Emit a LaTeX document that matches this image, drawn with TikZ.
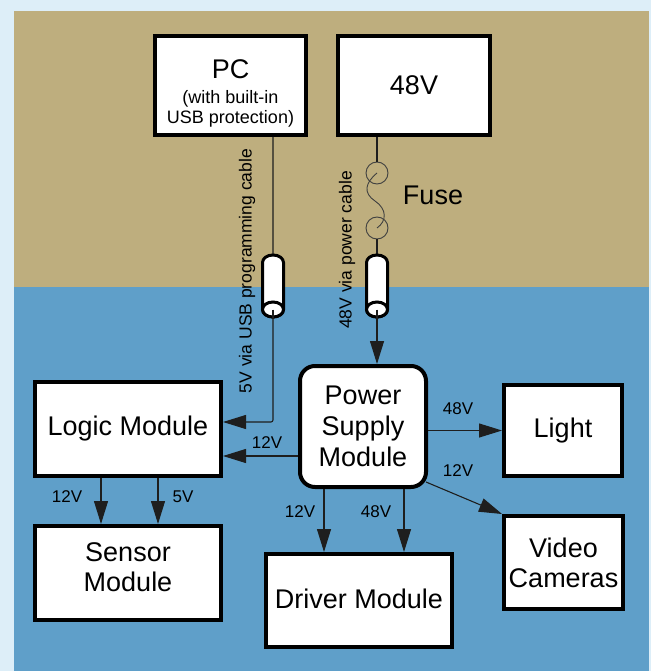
\documentclass[tikz,border=0pt]{standalone}
\usepackage{fontspec}
\setmainfont{Liberation Sans}
\usetikzlibrary{arrows.meta,calc}
\definecolor{frameblue}{HTML}{DDEEF8}
\definecolor{sand}{HTML}{BEAE7E}
\definecolor{water}{HTML}{5F9FC9}
\definecolor{wirec}{HTML}{1E1E1E}
\tikzset{
 box/.style={draw=black, fill=white, line width=4pt, inner sep=0pt, font=\fontsize{27}{30}\selectfont, align=center},
 arr/.style={draw=wirec, line width=1.1pt, -{Triangle[length=23pt,width=14pt]}},
 wire/.style={draw=wirec, line width=1.1pt},
 fusewire/.style={draw=black!75, line width=0.9pt},
 volt/.style={font=\fontsize{17}{20}\selectfont, inner sep=0pt},
 vlab/.style={font=\fontsize{17.5}{20}\selectfont, rotate=90, inner sep=0pt},
 cylst/.style={draw=black, fill=white, line width=3pt},
 fusec/.style={circle, draw=black!75, line width=0.9pt, minimum size=22pt, inner sep=0pt},
 bigtext/.style={font=\fontsize{27}{30}\selectfont, inner sep=0pt, align=center},
}
\newcommand\cablecyl[1]{%
 \filldraw[cylst] ($(#1)+(-10.5,23.5)$) -- ($(#1)+(-10.5,-23.5)$)
   arc[start angle=180,end angle=360,x radius=10.5,y radius=7.5]
   -- ($(#1)+(10.5,23.5)$)
   arc[start angle=0,end angle=180,x radius=10.5,y radius=7.5] -- cycle;
 \draw[cylst] ($(#1)+(0,-23.5)$) ellipse[x radius=10.5,y radius=7.5];
 \draw[wire] ($(#1)+(0,-23.5)$) -- ($(#1)+(0,-32.5)$);
}
\begin{document}
\begin{tikzpicture}[x=1pt,y=1pt]
\useasboundingbox (0,0) rectangle (651,-671);
\fill[frameblue] (0,0) rectangle (651,-671);
\fill[sand] (14,-11) rectangle (649,-287);
\fill[water] (14,-287) rectangle (649,-671);

% boxes
\node[box, minimum width=151, minimum height=99] (pc) at (230.5,-85.5) {};
\node[bigtext, anchor=base] (pctitle) at (230.5,-79) {PC};
\node[font=\fontsize{18}{20}\selectfont, align=center, inner sep=0pt] (pcsub) at (230.5,-108.5) {(with built-in\\USB protection)};
\node[box, minimum width=152, minimum height=99] (v48) at (414,-85.5) {48V};

\node[box, minimum width=186, minimum height=94] (logic) at (128,-429) {Logic Module};
\node[box, minimum width=186, minimum height=94] (sensor) at (128,-573) {};
\node[bigtext] (sensortxt) at (128,-567) {Sensor\\Module};
\node[box, rounded corners=15pt, minimum width=126, minimum height=121, font=\fontsize{27}{31}\selectfont] (psm) at (363,-426.5) {Power\\Supply\\Module};
\node[box, minimum width=118, minimum height=91] (light) at (563,-430.5) {Light};
\node[box, minimum width=119, minimum height=93] (cam) at (563.5,-562.5) {Video\\Cameras};
\node[box, minimum width=186, minimum height=93] (drv) at (359,-600.5) {};
\node[bigtext] (drvtxt) at (359,-598.5) {Driver Module};

% fuse
\node[fusec] (f1) at (377,-173) {};
\node[fusec] (f2) at (377,-228) {};
\node[bigtext] (fuselab) at (433,-195) {Fuse};
\draw[wire] (v48.south -| f1) -- (f1.north);
\draw[fusewire] (f1.center) .. controls ($(f1)+(-12,-10)$) and ($(f1)+(-14,-20)$) .. ($(f1)+(-2,-28)$)
  .. controls ($(f1)+(10,-36)$) and ($(f1)+(10,-48)$) .. (f2.center);

% cables
\coordinate (cu) at (273,-286);
\coordinate (cp) at (377,-286);
\draw[arr, rounded corners=2pt] ([xshift=42.5pt]pc.south) |- ([yshift=7pt]logic.east);
\draw[arr] (f2.south) -- (f2.south |- psm.north);
\cablecyl{cu}
\cablecyl{cp}

% connectors
\draw[arr] ([yshift=-29.5pt]psm.west) -- ([yshift=-29.5pt]psm.west -| logic.east);
\draw[arr] (psm.east |- light.west) -- (light.west);
\draw[arr] ([shift={(-2pt,7pt)}]psm.south east) -- (cam.north west);
\draw[arr] ([xshift=-39pt]psm.south) -- ([xshift=-39pt]psm.south |- drv.north);
\draw[arr] ([xshift=41pt]psm.south) -- ([xshift=41pt]psm.south |- drv.north);
\draw[arr] ([xshift=-27pt]logic.south) -- ([xshift=-27pt]logic.south |- sensor.north);
\draw[arr] ([xshift=30pt]logic.south) -- ([xshift=30pt]logic.south |- sensor.north);

% labels
\node[volt] (v1) at (67,-497) {12V};
\node[volt] (v2) at (183,-497) {5V};
\node[volt] (v3) at (267,-443) {12V};
\node[volt] (v4) at (300,-512) {12V};
\node[volt] (v5) at (376,-512) {48V};
\node[volt] (v6) at (458,-409) {48V};
\node[volt] (v7) at (458,-471) {12V};
\node[vlab] (usblab) at (247,-271) {5V via USB programming cable};
\node[vlab] (pwrlab) at (347,-250) {48V via power cable};
\end{tikzpicture}
\end{document}
